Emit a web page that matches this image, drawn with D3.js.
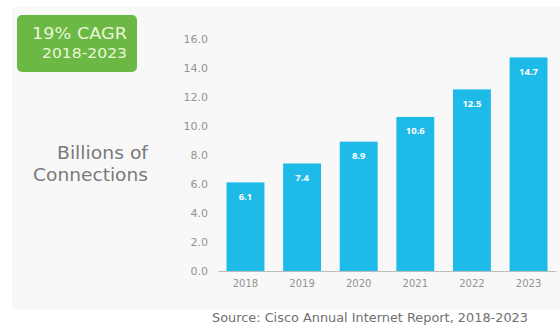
<!DOCTYPE html>
<html>
<head>
<meta charset="utf-8">
<script src="https://cdn.jsdelivr.net/npm/d3@7"></script>
<style>
  html, body { margin: 0; padding: 0; background: #ffffff; }
  svg { display: block; font-family: "Open Sans", "Liberation Sans", Arial, sans-serif; }
</style>
</head>
<body>
<svg id="chart" width="560" height="329"></svg>
<script>
// Global connected devices, billions
const years = ["2018", "2019", "2020", "2021", "2022", "2023"];
const connections = [6.1, 7.4, 8.9, 10.6, 12.5, 14.7];
const yTicks = [0, 2, 4, 6, 8, 10, 12, 14, 16];

const svg = d3.select("#chart");

// soft panel behind the chart
svg.append("rect")
  .attr("x", 12).attr("y", 7)
  .attr("width", 548).attr("height", 303)
  .attr("fill", "#f8f8f8");

const x = d3.scaleBand()
  .domain(years)
  .range([218, 556])
  .paddingInner(0.33)
  .paddingOuter(0.15);

const y = d3.scaleLinear()
  .domain([0, 16])
  .range([271, 38.5]);

// y axis labels (no line)
const yAxis = d3.axisLeft(y)
  .tickValues(yTicks)
  .tickFormat(d3.format(".1f"))
  .tickSize(0)
  .tickPadding(0);
const gy = svg.append("g")
  .attr("transform", "translate(208,0)")
  .call(yAxis);
gy.select(".domain").remove();
gy.selectAll("text")
  .attr("fill", "#939393")
  .style("font-size", "11px")
  .style("font-family", "\"DejaVu Sans\", sans-serif");

// bars
svg.append("g").selectAll("rect")
  .data(years)
  .join("rect")
  .attr("x", d => x(d))
  .attr("width", x.bandwidth())
  .attr("y", (d, i) => y(connections[i]))
  .attr("height", (d, i) => y(0) - y(connections[i]))
  .attr("fill", "#1fbbe8");

// value labels inside the bars
svg.append("g").selectAll("text")
  .data(years)
  .join("text")
  .attr("x", d => x(d) + x.bandwidth() / 2)
  .attr("y", (d, i) => y(connections[i]) + 17.5)
  .attr("text-anchor", "middle")
  .attr("fill", "#ffffff")
  .style("font-size", "9.5px")
  .style("font-weight", "bold")
  .text((d, i) => connections[i].toFixed(1));

// x axis
const xAxis = d3.axisBottom(x).tickSize(0).tickPadding(9);
const gx = svg.append("g")
  .attr("transform", "translate(0,271)")
  .call(xAxis);
gx.select(".domain")
  .attr("stroke", "#bdbdbd")
  .attr("stroke-width", 1);
gx.selectAll("text")
  .attr("fill", "#939393")
  .style("font-size", "10px")
  .style("font-family", "\"DejaVu Sans\", sans-serif");

// axis title
const title = svg.append("g")
  .attr("fill", "#7a7a7a")
  .style("font-size", "17px")
  .style("font-family", "\"DejaVu Sans\", sans-serif");
title.append("text").attr("x", 57).attr("y", 159)
  .attr("textLength", 91).attr("lengthAdjust", "spacingAndGlyphs")
  .text("Billions of");
title.append("text").attr("x", 33).attr("y", 181)
  .attr("textLength", 115).attr("lengthAdjust", "spacingAndGlyphs")
  .text("Connections");

// growth badge
svg.append("rect")
  .attr("x", 17).attr("y", 15)
  .attr("width", 120).attr("height", 57)
  .attr("rx", 5)
  .attr("fill", "#6cb845");
const badge = svg.append("g")
  .attr("fill", "#e9f6d8")
  .style("font-family", "\"DejaVu Sans\", sans-serif");
badge.append("text").attr("x", 32).attr("y", 39)
  .style("font-size", "15px")
  .attr("textLength", 95).attr("lengthAdjust", "spacingAndGlyphs")
  .text("19% CAGR");
badge.append("text").attr("x", 42).attr("y", 58)
  .style("font-size", "14px")
  .attr("textLength", 85).attr("lengthAdjust", "spacingAndGlyphs")
  .text("2018-2023");

// source note
svg.append("text")
  .attr("x", 212).attr("y", 322)
  .attr("fill", "#6f6f6f")
  .style("font-size", "11.5px")
  .style("font-family", "\"DejaVu Sans\", sans-serif")
  .attr("textLength", 316).attr("lengthAdjust", "spacingAndGlyphs")
  .text("Source: Cisco Annual Internet Report, 2018-2023");
</script>
</body>
</html>
